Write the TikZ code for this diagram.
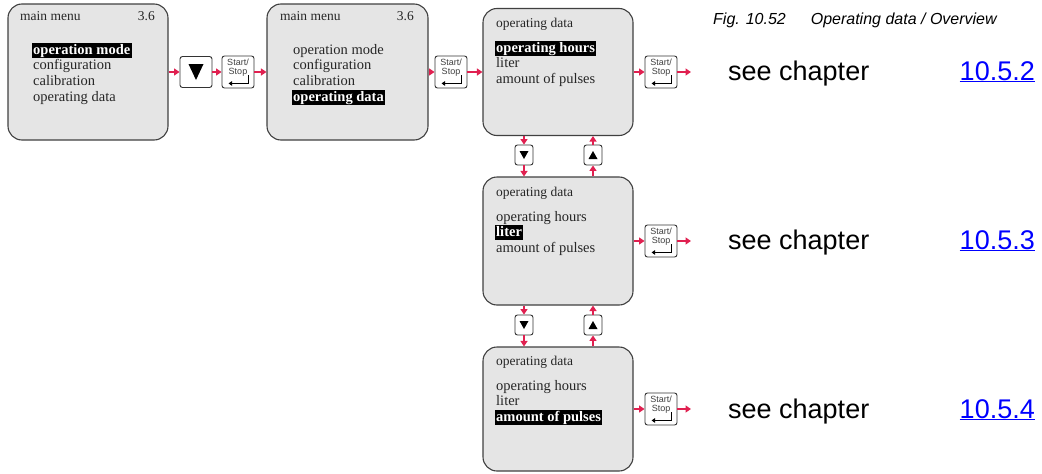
\documentclass[tikz,border=0pt]{standalone}
\usepackage{fontspec}
\setmainfont{Liberation Serif}
\newfontfamily\arialfont{Liberation Sans}
\usepackage{xcolor}
\usepackage{tikz}
\usetikzlibrary{arrows.meta,positioning,calc}
\definecolor{keyred}{RGB}{224,32,80}
\definecolor{screengray}{RGB}{229,229,229}
\definecolor{linkblue}{RGB}{0,0,255}
\tikzset{
  screen/.style={draw=black!75, fill=screengray, line width=1.1pt,
                 rounded corners=14pt, inner sep=0pt},
  keybox/.style={draw=black!80, fill=white, line width=0.9pt,
                 rounded corners=2.5pt, inner sep=0pt},
  keyarrow/.style={-{Triangle[length=5.5pt,width=7pt]}, keyred, line width=1.8pt},
  retline/.style={-{Triangle[length=3.5pt,width=4.5pt]}, black, line width=1.5pt},
  title/.style={anchor=base west, inner sep=0pt, text=black!85,
                font=\fontsize{13.5}{14}\selectfont},
  item/.style={anchor=base west, inner sep=0pt, text=black!85,
               font=\fontsize{14.5}{15}\selectfont},
  hilite/.style={anchor=base west, inner xsep=1.5pt, inner ysep=0.8pt,
                 text height=10.5pt, text depth=3pt, fill=black, text=white,
                 font=\fontsize{14.5}{15}\selectfont\bfseries},
  keytext/.style={anchor=north, inner sep=0pt, align=center, text=black!75,
                  font=\arialfont\fontsize{9}{9.5}\selectfont},
  seetext/.style={anchor=base west, inner sep=0pt,
                  font=\arialfont\fontsize{27}{28}\selectfont},
  chaplink/.style={anchor=base east, inner sep=0pt, text=linkblue,
                   font=\arialfont\fontsize{27}{28}\selectfont}
}
% key with Start/Stop label and return sign
\newcommand{\startkey}[3]{%
  \node[keybox, minimum width=32pt, minimum height=32pt] (#1) at (#2,#3) {};
  \node[keytext] (#1t) at ($(#1.north)+(0,3)$) {Start/\\Stop};
  \draw[retline] ($(#1.south east)+(-6,-13)$) -- ($(#1.south east)+(-6,-5)$)
    -- ($(#1.south west)+(7,-5)$);
}
\newcommand{\downtri}[3]{%
  \fill ($(#1.center)+(-#2,-#3)$) -- ($(#1.center)+(#2,-#3)$)
    -- ($(#1.center)+(0,#3)$) -- cycle;
}
\newcommand{\uptri}[3]{%
  \fill ($(#1.center)+(-#2,#3)$) -- ($(#1.center)+(#2,#3)$)
    -- ($(#1.center)+(0,-#3)$) -- cycle;
}

\begin{document}
\begin{tikzpicture}[x=1pt, y=-1pt]
    \useasboundingbox (0,0) rectangle (1042,474);
    \def\yA{72} \def\yB{241} \def\yC{409}
    \def\xL{524} \def\xR{593}

    % Screens
    \node[screen, minimum width=160pt, minimum height=136pt] (s1) at (88,\yA) {};
    \node[screen, minimum width=161pt, minimum height=136pt] (s2) at (347.5,\yA) {};
    \node[screen, minimum width=150pt, minimum height=127pt] (s3) at (558,\yA) {};
    \node[screen, minimum width=150pt, minimum height=128pt] (s4) at (558,\yB) {};
    \node[screen, minimum width=150pt, minimum height=124pt] (s5) at (558,\yC) {};

    % main menu 1
    \node[title] (s1h) at (20,20) {main menu};
    \node[title, anchor=base east] (s1v) at (155,20) {3.6};
    \node[hilite] (s1a) at (31.5,54) {operation mode};
    \node[item] (s1b) at (33,69) {configuration};
    \node[item] (s1c) at (33,85) {calibration};
    \node[item] (s1d) at (33,101) {operating data};

    % main menu 2
    \node[title] (s2h) at (280,20) {main menu};
    \node[title, anchor=base east] (s2v) at (414,20) {3.6};
    \node[item] (s2a) at (293,54) {operation mode};
    \node[item] (s2b) at (293,69) {configuration};
    \node[item] (s2c) at (293,85) {calibration};
    \node[hilite] (s2d) at (291.5,101) {operating data};

    % operating data screens
    \node[title] (s3h) at (496,27) {operating data};
    \node[hilite] (s3a) at (494.5,52) {operating hours};
    \node[item] (s3b) at (496,67) {liter};
    \node[item] (s3c) at (496,83) {amount of pulses};

    \node[title] (s4h) at (496,196) {operating data};
    \node[item] (s4a) at (496,221) {operating hours};
    \node[hilite] (s4b) at (494.5,236) {liter\hspace{7pt}};
    \node[item] (s4c) at (496,252) {amount of pulses};

    \node[title] (s5h) at (496,365) {operating data};
    \node[item] (s5a) at (496,390) {operating hours};
    \node[item] (s5b) at (496,405) {liter};
    \node[hilite] (s5c) at (494.5,421) {amount of pulses};

    % Keys
    \node[keybox, minimum width=32pt, minimum height=31pt] (kd1) at (196,\yA) {};
    \downtri{kd1}{7.5}{8}
    \startkey{ks1}{238}{\yA}
    \startkey{ks2}{451}{\yA}
    \startkey{ks3}{661}{\yA}
    \startkey{ks4}{661}{\yB}
    \startkey{ks5}{661}{\yC}
    \node[keybox, minimum width=18pt, minimum height=20pt] (kd3) at (\xL,155) {};
    \node[keybox, minimum width=18pt, minimum height=20pt] (ku3) at (\xR,155) {};
    \node[keybox, minimum width=18pt, minimum height=20pt] (kd4) at (\xL,325) {};
    \node[keybox, minimum width=18pt, minimum height=20pt] (ku4) at (\xR,325) {};
    \downtri{kd3}{4.5}{4}
    \uptri{ku3}{4.5}{4}
    \downtri{kd4}{4.5}{4}
    \uptri{ku4}{4.5}{4}

    % Row arrows
    \draw[keyarrow] (s1.east) -- (kd1.west);
    \draw[keyarrow] (kd1.east) -- (ks1.west);
    \draw[keyarrow] (ks1.east) -- (s2.west);
    \draw[keyarrow] (s2.east) -- (ks2.west);
    \draw[keyarrow] (ks2.east) -- (s3.west);
    \draw[keyarrow] (s3.east) -- (ks3.west);
    \draw[keyarrow] (s4.east) -- (ks4.west);
    \draw[keyarrow] (s5.east) -- (ks5.west);
    \coordinate (e3) at (691,\yA);
    \coordinate (e4) at (691,\yB);
    \coordinate (e5) at (691,\yC);
    \draw[keyarrow] (ks3.east) -- (e3);
    \draw[keyarrow] (ks4.east) -- (e4);
    \draw[keyarrow] (ks5.east) -- (e5);

    % Up / down arrows
    \draw[keyarrow] (s3.south -| kd3.north) -- (kd3.north);
    \draw[keyarrow] (kd3.south) -- (kd3.south |- s4.north);
    \draw[keyarrow] (ku3.south |- s4.north) -- (ku3.south);
    \draw[keyarrow] (ku3.north) -- (ku3.north |- s3.south);
    \draw[keyarrow] (s4.south -| kd4.north) -- (kd4.north);
    \draw[keyarrow] (kd4.south) -- (kd4.south |- s5.north);
    \draw[keyarrow] (ku4.south |- s5.north) -- (ku4.south);
    \draw[keyarrow] (ku4.north) -- (ku4.north |- s4.south);

    % Caption and references
    \node[anchor=base west, inner sep=0pt, font=\arialfont\itshape\fontsize{16}{17}\selectfont]
      (cap) at (713,24) {Fig. 10.52\hspace{25pt}Operating data / Overview};
    \node[seetext] (see1) at (728,80) {see chapter};
    \node[chaplink] (ch1) at (1035,80) {\underline{10.5.2}};
    \node[seetext] (see2) at (728,249) {see chapter};
    \node[chaplink] (ch2) at (1035,249) {\underline{10.5.3}};
    \node[seetext] (see3) at (728,418) {see chapter};
    \node[chaplink] (ch3) at (1035,418) {\underline{10.5.4}};
\end{tikzpicture}
\end{document}
